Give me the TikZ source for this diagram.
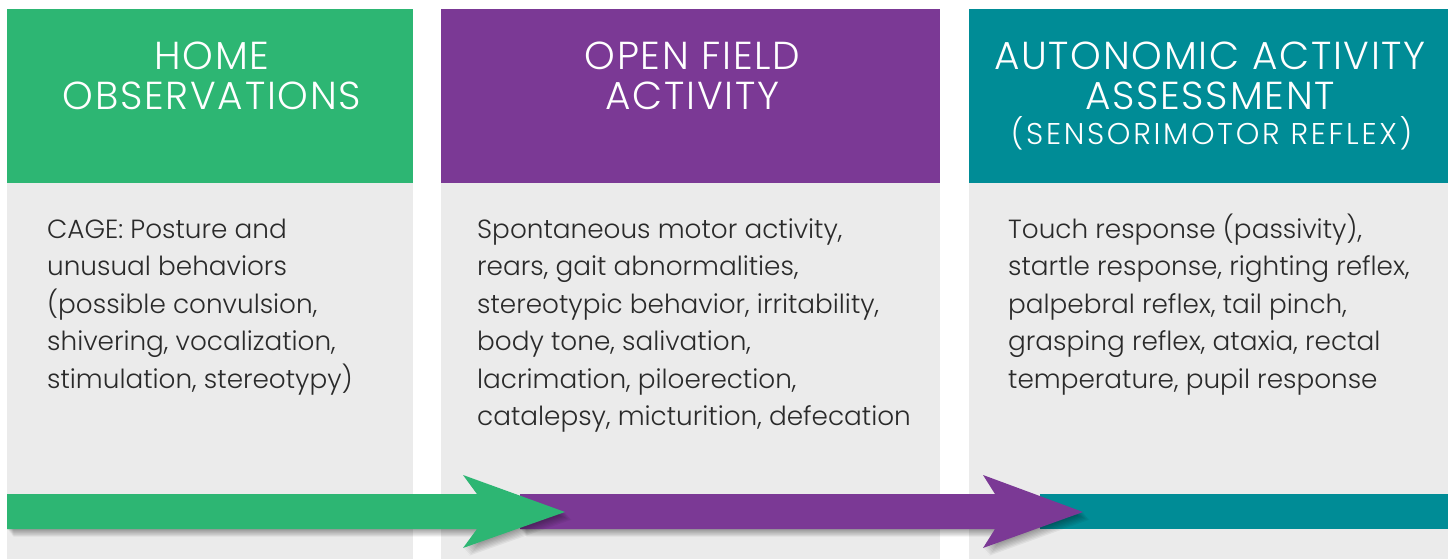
\documentclass[tikz,border=0pt]{standalone}
\usepackage{fontspec}
\setmainfont{Poppins Light}
\newfontfamily\hdrfont{Poppins Light}[LetterSpace=4.5]
\newfontfamily\subfont{Poppins Light}[LetterSpace=9.0]
\definecolor{cgreen}{HTML}{2DB673}
\definecolor{cpurple}{HTML}{7B3995}
\definecolor{cteal}{HTML}{008C96}
\definecolor{cgrey}{HTML}{EBEBEB}
\definecolor{ctext}{HTML}{2A2A2A}
\begin{document}
\begin{tikzpicture}[x=1pt,y=-1pt,
  panel/.style={draw=none, inner sep=0pt, outer sep=0pt, anchor=north west},
  htext/.style={inner sep=0pt, anchor=base, text=white, font=\hdrfont\fontsize{39pt}{39.5pt}\selectfont},
  stext/.style={inner sep=0pt, anchor=base, text=white, font=\subfont\fontsize{30pt}{31pt}\selectfont},
  btext/.style={inner sep=0pt, anchor=base west, text=ctext, font=\fontsize{26.3pt}{37.5pt}\selectfont},
  softshadow/.style={fill=black, opacity=0.055}]
\fill[white] (0,0) rectangle (1448,559);
\useasboundingbox (0,0) rectangle (1448,559);
% body panels
\node[panel, fill=cgrey, minimum width=406pt, minimum height=376pt] (b1) at (7,183) {};
\node[panel, fill=cgrey, minimum width=499pt, minimum height=376pt] (b2) at (441,183) {};
\node[panel, fill=cgrey, minimum width=479pt, minimum height=376pt] (b3) at (969,183) {};
% headers
\node[panel, fill=cgreen, minimum width=406pt, minimum height=174pt] (h1) at (7,9) {};
\node[panel, fill=cpurple, minimum width=499pt, minimum height=174pt] (h2) at (441,9) {};
\node[panel, fill=cteal, minimum width=479pt, minimum height=174pt] (h3) at (969,9) {};
% header texts
\node[htext] (ht1) at (212,70) {\parbox[t]{400pt}{\centering HOME\\OBSERVATIONS}};
\node[htext] (ht2) at (692.5,70) {\parbox[t]{490pt}{\centering OPEN FIELD\\ACTIVITY}};
\node[htext] (ht3) at (1210,70) {\parbox[t]{475pt}{\centering AUTONOMIC ACTIVITY\\ASSESSMENT}};
\node[stext] (st3) at (1211.5,144) {(SENSORIMOTOR REFLEX)};
% body texts
\node[btext] (bt1) at (47,238) {\parbox[t]{360pt}{\raggedright CAGE: Posture and\\unusual behaviors\\(possible convulsion,\\shivering, vocalization,\\stimulation, stereotypy)}};
\node[btext] (bt2) at (477,238) {\parbox[t]{460pt}{\raggedright Spontaneous motor activity,\\rears, gait abnormalities,\\stereotypic behavior, irritability,\\body tone, salivation,\\lacrimation, piloerection,\\catalepsy, micturition, defecation}};
\node[btext] (bt3) at (1008,238) {\parbox[t]{440pt}{\raggedright Touch response (passivity),\\startle response, righting reflex,\\palpebral reflex, tail pinch,\\grasping reflex, ataxia, rectal\\temperature, pupil response}};
% timeline arrow
\fill[cteal] (1040,494) -- (1448,494) -- (1448,529) -- (1040,529) -- cycle;
\foreach \s in {1,...,7} {
  \fill[softshadow, xshift=\s*0.9pt, yshift=-\s*1.1pt] (900,494) -- (995,494) -- (983,475) -- (1083,512) -- (983,548) -- (995,529) -- (520,529) -- (520,494) -- cycle;
}
\fill[cpurple] (520,494) -- (995,494) -- (983,475) -- (1083,512) -- (983,548) -- (995,529) -- (520,529) -- cycle;
\foreach \s in {1,...,7} {
  \fill[softshadow, xshift=\s*0.9pt, yshift=-\s*1.1pt] (7,494) -- (477,494) -- (463,475) -- (565,512) -- (463,548) -- (477,529) -- (7,529) -- cycle;
}
\fill[cgreen] (7,494) -- (477,494) -- (463,475) -- (565,512) -- (463,548) -- (477,529) -- (7,529) -- cycle;
\end{tikzpicture}
\end{document}
